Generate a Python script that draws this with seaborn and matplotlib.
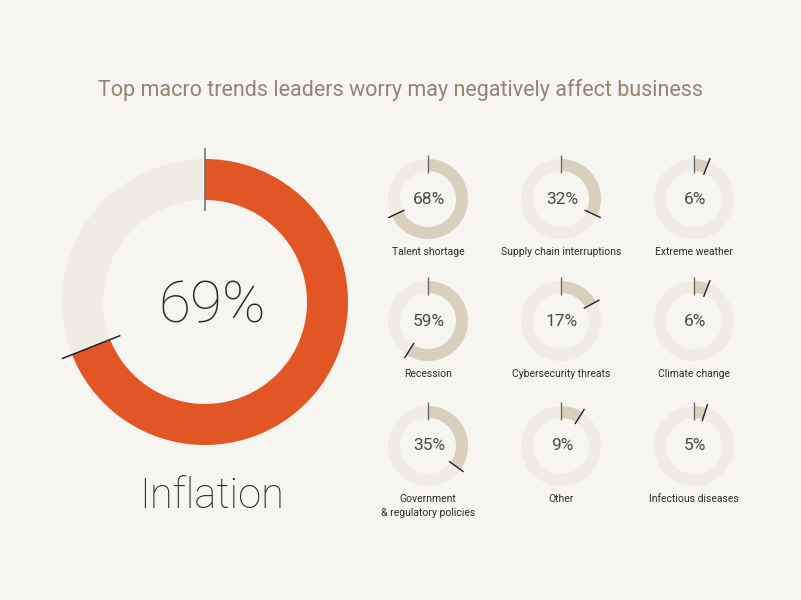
import numpy as np
import matplotlib
matplotlib.use("Agg")
from matplotlib import pyplot as plt
import seaborn as sns

title = "Top macro trends leaders worry may negatively affect business"
main_label = "Inflation"
main_value = 69

labels = ["Talent shortage", "Supply chain interruptions", "Extreme weather",
          "Recession", "Cybersecurity threats", "Climate change",
          "Government\n& regulatory policies", "Other", "Infectious diseases"]
values = [68, 32, 6, 59, 17, 6, 35, 9, 5]

BG = "#f7f5f0"
TRACK = "#efece4"
ORANGE = "#e25524"
BEIGE = "#d9cfbd"
TXT = "#2b2b2b"

sns.set_theme(style="white")
plt.rcParams["font.family"] = ["Roboto", "DejaVu Sans"]

fig = plt.figure(figsize=(8.01, 6.0), dpi=100, facecolor=BG)
ax = fig.add_axes([0, 0, 1, 1])
ax.set_facecolor(BG)

H = 600


def donut(cx, cy, r_out, r_in, val, color, r_tick_in, r_tick_out, lw_tick):
    y = H - cy
    ax.pie([val, 100 - val], colors=[color, TRACK], startangle=90, counterclock=False,
           radius=r_out, center=(cx, y), wedgeprops=dict(width=r_out - r_in, linewidth=0))
    # start tick at top
    ax.plot([cx, cx], [y + r_tick_in, y + r_tick_out], color="#6b6b6b", lw=lw_tick,
            solid_capstyle="butt")
    # end tick at value angle
    a = np.deg2rad(val / 100 * 360)
    dx, dy = np.sin(a), np.cos(a)
    ax.plot([cx + dx * r_tick_in, cx + dx * r_tick_out],
            [y + dy * r_tick_in, y + dy * r_tick_out], color="#222222", lw=lw_tick,
            solid_capstyle="butt")


# big donut
donut(205, 302, 143, 102, main_value, ORANGE, 91, 154, 1.1)
ax.text(212, H - 307, f"{main_value}%", ha="center", va="center", fontsize=42,
        fontweight=100, color=TXT)
ax.text(212, H - 496, main_label, ha="center", va="center", fontsize=30,
        fontweight="light", color=TXT)

# small donuts
col_x = [428, 561, 694]
row_y = [199, 321, 446]
for i, (lab, v) in enumerate(zip(labels, values)):
    cx = col_x[i % 3]
    cy = row_y[i // 3]
    donut(cx, cy, 40, 28, v, BEIGE, 26, 44, 1.0)
    ax.text(cx + 1, H - cy, f"{v}%", ha="center", va="center", fontsize=12.5,
            fontweight="normal", color="#4a4a4a")
    ax.text(cx, H - cy - 48, lab, ha="center", va="top", fontsize=7.5,
            color=TXT, linespacing=1.45)

ax.text(401, H - 90, title, ha="center", va="center", fontsize=15.5,
        fontweight="normal", color="#948472")

ax.set_xlim(0, 801)
ax.set_ylim(0, H)
ax.set_aspect("auto")
ax.axis("off")

fig.savefig("out.png", dpi=100, facecolor=BG)
